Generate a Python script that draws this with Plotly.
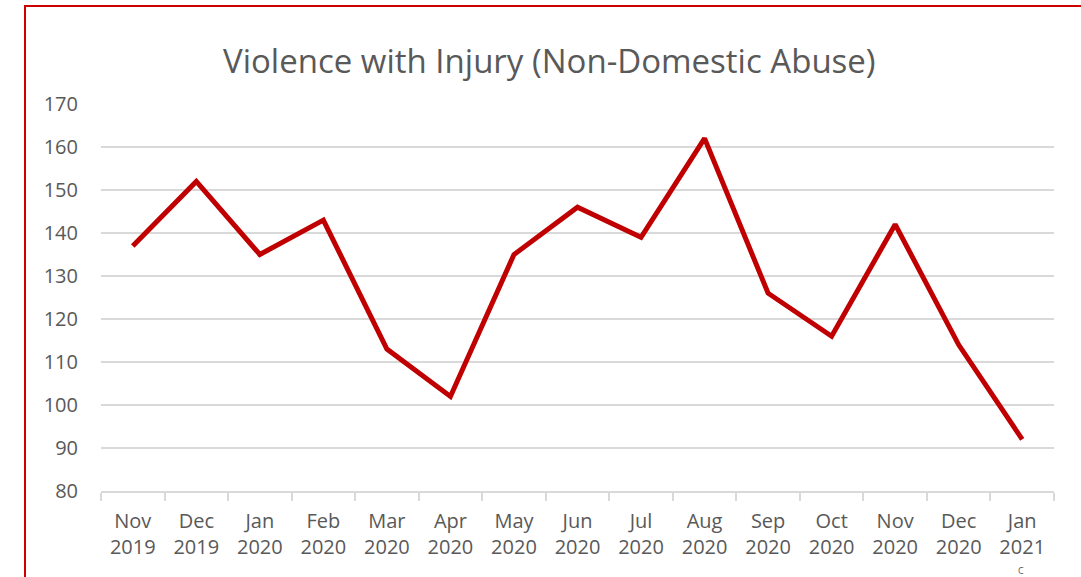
import plotly.graph_objects as go

months = ["Nov", "Dec", "Jan", "Feb", "Mar", "Apr", "May", "Jun", "Jul", "Aug", "Sep", "Oct", "Nov", "Dec", "Jan"]
years = ["2019", "2019", "2020", "2020", "2020", "2020", "2020", "2020", "2020", "2020", "2020", "2020", "2020", "2020", "2021"]
values = [137, 152, 135, 143, 113, 102, 135, 146, 139, 162, 126, 116, 142, 114, 92]
y_ticks = [80, 90, 100, 110, 120, 130, 140, 150, 160, 170]

categories = [f"{m}<br>{y}" for m, y in zip(months, years)]

TEXT = "#595959"
GRID = "#d9d9d9"
FONT = "Open Sans"

W, H = 1081, 577
L, R, T, B = 101, 1054, 104, 491
pw, ph = R - L, B - T


def px_x(p):
    return (p - L) / pw


def px_y(p):
    return (B - p) / ph


fig = go.Figure()
fig.add_trace(go.Scatter(
    x=categories, y=values, mode="lines",
    line=dict(color="#C00000", width=5),
    hoverinfo="x+y", showlegend=False,
))

fig.update_layout(
    width=W, height=H,
    margin=dict(l=L, r=W - R, t=T, b=H - B, pad=0),
    paper_bgcolor="white", plot_bgcolor="white",
    font=dict(family=FONT, color=TEXT, size=20),
    xaxis=dict(
        type="category", range=[-0.5, len(categories) - 0.5],
        showgrid=False, showline=True, linecolor=GRID, linewidth=1.5,
        ticks="outside", tickson="boundaries", ticklen=8, tickcolor=GRID, tickwidth=1.5,
        ticklabelstandoff=11,
        tickfont=dict(size=20, color=TEXT, family=FONT), fixedrange=True,
    ),
    yaxis=dict(
        range=[80, 170], tickvals=y_ticks, showgrid=True, gridcolor=GRID, gridwidth=1.5,
        zeroline=False, showline=False, ticks="", ticklabelstandoff=22,
        tickfont=dict(size=20, color=TEXT, family=FONT), fixedrange=True,
    ),
    annotations=[
        dict(text="Violence with Injury (Non-Domestic Abuse)", xref="paper", yref="paper",
             x=px_x(549), y=px_y(60), xanchor="center", yanchor="middle", showarrow=False,
             font=dict(size=33, color=TEXT, family=FONT)),
        dict(text="C", xref="paper", yref="paper", x=px_x(1021), y=px_y(563),
             xanchor="center", yanchor="top", showarrow=False, borderpad=0,
             font=dict(size=9, color=TEXT, family=FONT)),
    ],
    shapes=[
        dict(type="rect", xref="paper", yref="paper",
             x0=px_x(25), x1=px_x(1100), y0=px_y(600), y1=px_y(6),
             line=dict(color="#CC0000", width=2), fillcolor="rgba(0,0,0,0)", layer="above"),
    ],
)

fig.write_html(
    "out.html",
    config={"displayModeBar": False},
    post_script="document.body.style.margin='0';document.body.style.overflow='hidden';",
)
